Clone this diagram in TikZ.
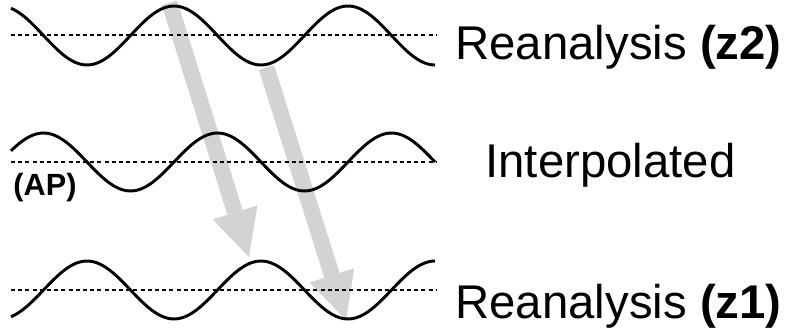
\documentclass[tikz,border=0pt]{standalone}
\usepackage{fontspec}
\setmainfont{Liberation Sans}
\usetikzlibrary{arrows.meta}

\definecolor{shiftgray}{RGB}{211,211,211}
\tikzset{every picture/.style={line width=0.75pt}}
\tikzset{
  wave/.style={line width=2.2pt},
  meanline/.style={line width=1.5pt, dash pattern=on 3pt off 2.4pt},
  shiftarrow/.style={draw=shiftgray, line width=12pt,
    -{Triangle[length=35pt,width=35pt,line width=0.01pt,fill=shiftgray]}},
  leveltext/.style={anchor=base west, inner sep=0pt, font=\fontsize{35.5}{40}\selectfont},
}

\begin{document}
\begin{tikzpicture}[x=0.75pt,y=0.75pt,yscale=-1,xscale=1]
\useasboundingbox (0,0) rectangle (788,328);

%Coordinates for the shift arrows
\coordinate (peakz2) at (169.5,3);
\coordinate (peakz1) at (249,257);
\coordinate (troughz2) at (266.5,67.5);
\coordinate (troughz1) at (346,320);

%Arrows (behind the waves)
\draw [shiftarrow] (peakz2) -- (peakz1);
\draw [shiftarrow] (troughz2) -- (troughz1);

%Dotted mean lines
\draw [meanline] (11,35.5) -- (437,35.5);
\draw [meanline] (11,162) -- (437,162);
\draw [meanline] (11,290) -- (437,290);

%Wave: reanalysis z2
\draw [wave] plot [domain=11:435, samples=120, smooth] (\x, {35.5-29.5*cos(\x/174*360)});
%Wave: interpolated
\draw [wave] plot [domain=11:435, samples=120, smooth] (\x, {162-29*cos((\x-43.5)/174*360)});
%Wave: reanalysis z1
\draw [wave] plot [domain=11:435, samples=120, smooth] (\x, {290+29*cos(\x/174*360)});

% Text Node
\node [leveltext] (labz2) at (455,60) {Reanalysis \textbf{(z2)}};
% Text Node
\node [leveltext] (labint) at (485,177) {Interpolated};
% Text Node
\node [leveltext] (labz1) at (455,318) {Reanalysis \textbf{(z1)}};
% Text Node
\node [anchor=base west, inner sep=0pt, font=\bfseries\fontsize{23}{26}\selectfont] (labap) at (13,195) {(AP)};

\end{tikzpicture}
\end{document}
